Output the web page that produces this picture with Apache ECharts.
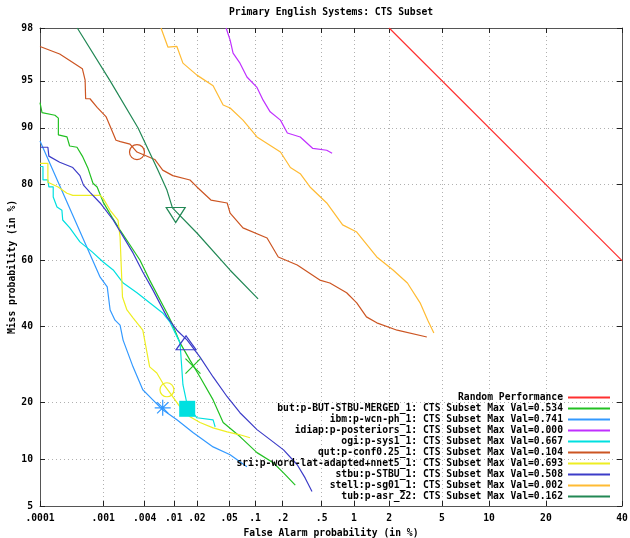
<!DOCTYPE html>
<html>
<head>
<meta charset="utf-8">
<script src="https://cdn.jsdelivr.net/npm/echarts@6/dist/echarts.min.js"></script>
<style>
  html, body { margin: 0; background: #fff; }
  #chart { width: 630px; height: 538px; }
</style>
</head>
<body>
<div id="chart"></div>
<script>
// tick labels (in %)
const faTicks = ['.0001', '.001', '.004', '.01', '.02', '.05', '.1', '.2', '.5', '1', '2', '5', '10', '20', '40'];
const missTicks = ['5', '10', '20', '40', '60', '80', '90', '95', '98'];

// curves: [false alarm %, miss %]
const random = [[2, 98], [40, 60]];
const but = [[0.0001, 93], [0.000108, 91.9], [0.000176, 91.6], [0.0002, 91.25], [0.0002, 89], [0.000275, 88.7], [0.000303, 87.3], [0.000396, 87.1], [0.00048, 85.6], [0.000589, 83.3], [0.0007, 80.3], [0.00081, 79.5], [0.001, 76], [0.00136, 72.2], [0.00178, 68.8], [0.00248, 64.6], [0.00343, 60.2], [0.0047, 54.1], [0.0081, 44], [0.0094, 41], [0.0121, 35.1], [0.0163, 30.3], [0.0219, 25.9], [0.0319, 20.5], [0.0423, 15.9], [0.067, 13.4], [0.105, 10.9], [0.159, 9.5], [0.205, 8.25], [0.272, 6.9]];
const ibm = [[0.0001, 88.1], [0.0009, 55], [0.00115, 52], [0.00127, 44.9], [0.0015, 41.8], [0.00178, 40.3], [0.00197, 35.9], [0.00274, 28.5], [0.00377, 22.8], [0.0052, 20.5], [0.0071, 18.4], [0.011, 16.4], [0.0178, 14.1], [0.0319, 11.75], [0.0513, 10.6], [0.0807, 9]];
const idiap = [[0.0459, 98], [0.0513, 97.5], [0.0556, 96.85], [0.067, 96.26], [0.0807, 95.3], [0.105, 94.45], [0.123, 93.26], [0.147, 92], [0.19, 91], [0.225, 89.27], [0.306, 88.7], [0.41, 86.9], [0.56, 86.6], [0.63, 86.1]];
const ogi = [[0.0001, 83.7], [0.000112, 83.7], [0.000112, 81], [0.000135, 81], [0.00014, 79.5], [0.000165, 79.5], [0.000165, 77.2], [0.00019, 74.8], [0.000228, 74], [0.000235, 71.5], [0.000305, 69.4], [0.00044, 65.5], [0.00068, 62.6], [0.001, 59.6], [0.00141, 57.2], [0.00198, 53.2], [0.00312, 50.2], [0.0047, 47.1], [0.0071, 44], [0.0089, 41.2], [0.0121, 35.1], [0.0132, 24], [0.015, 19.4], [0.02, 16.8], [0.0319, 16.4], [0.0338, 15.1]];
const qut = [[0.0001, 97.2], [0.00021, 96.8], [0.00034, 96.3], [0.00048, 95.9], [0.00053, 95.05], [0.00054, 93.4], [0.00063, 93.4], [0.00081, 92.5], [0.00111, 91.4], [0.00127, 90.2], [0.00155, 88.2], [0.0018, 88], [0.00248, 87.6], [0.00312, 86.3], [0.00553, 85], [0.0071, 83], [0.0097, 81.9], [0.0163, 81], [0.02, 79.5], [0.03, 76.5], [0.0473, 75.8], [0.0513, 73.3], [0.0726, 69.4], [0.136, 66.6], [0.18, 61.1], [0.285, 58.7], [0.48, 54.1], [0.6, 53.2], [0.86, 50.2], [1.06, 47.1], [1.29, 42.8], [1.58, 41], [2.32, 38.8], [3.9, 36.8]];
const sri = [[0.0001, 84.3], [0.000135, 84.3], [0.000135, 80.5], [0.000198, 79.5], [0.000275, 78.1], [0.00034, 77.6], [0.0009, 77.6], [0.001, 76.9], [0.00127, 74], [0.00166, 71.5], [0.00178, 66.9], [0.00193, 48.9], [0.00224, 44.9], [0.00274, 42.5], [0.00377, 38.8], [0.0047, 28.5], [0.0059, 26.9], [0.0071, 24.4], [0.0089, 22.1], [0.0121, 19], [0.0163, 17], [0.0219, 15.9], [0.0319, 14.9], [0.0473, 14.2], [0.067, 13.7], [0.0875, 13.2]];
const stbu = [[0.0001, 87.1], [0.000135, 87.1], [0.00014, 85.6], [0.00021, 84.5], [0.00034, 83.5], [0.00044, 81.9], [0.0005, 79.9], [0.00063, 78.3], [0.0009, 75.8], [0.00141, 71.5], [0.00199, 66.9], [0.00274, 62.3], [0.00377, 56.6], [0.0052, 51.1], [0.0081, 42.8], [0.011, 38.8], [0.015, 35.9], [0.0219, 31.1], [0.0319, 25.9], [0.0473, 21.2], [0.067, 17.8], [0.105, 14.6], [0.147, 12.9], [0.205, 11.3], [0.285, 9.25], [0.343, 7.67], [0.402, 6.27]];
const stell = [[0.00673, 98], [0.00834, 97.17], [0.011, 97.2], [0.0132, 96.26], [0.02, 95.44], [0.0319, 94.6], [0.0423, 92.76], [0.0513, 92.43], [0.0726, 91], [0.105, 88.7], [0.19, 86.3], [0.242, 83.5], [0.306, 82.3], [0.384, 79.5], [0.56, 75.8], [0.79, 70.2], [1.06, 68.25], [1.58, 61.1], [2.15, 57.2], [2.79, 53.2], [3.48, 47.1], [3.96, 41.8], [4.38, 38]];
const tub = [[0.0004, 98], [0.00127, 95], [0.00322, 90], [0.0061, 83], [0.0081, 78.8], [0.0096, 74.6], [0.02, 68], [0.051, 57.2], [0.108, 48.3]];

// min DCF points: [false alarm %, miss %]
const butMin = [0.0178, 28.7];
const ibmMin = [0.0071, 18.8];
const ogiMin = [0.015, 18.6];
const qutMin = [0.00312, 86.3];
const sriMin = [0.0081, 22.8];
const stbuMin = [0.0145, 35.1];
const tubMin = [0.0106, 72.8];

// inverse normal CDF (Acklam), used for the DET axes
function probit(p) {
  const a = [-39.69683028665376, 220.9460984245205, -275.9285104469687, 138.3577518672690, -30.66479806614716, 2.506628277459239];
  const b = [-54.47609879822406, 161.5858368580409, -155.6989798598866, 66.80131188771972, -13.28068155288572];
  const c = [-0.007784894002430293, -0.3223964580411365, -2.400758277161838, -2.549732539343734, 4.374664141464968, 2.938163982698783];
  const d = [0.007784695709041462, 0.3224671290700398, 2.445134137142996, 3.754408661907416];
  const plow = 0.02425;
  let q, r;
  if (p < plow) {
    q = Math.sqrt(-2 * Math.log(p));
    return (((((c[0] * q + c[1]) * q + c[2]) * q + c[3]) * q + c[4]) * q + c[5]) / ((((d[0] * q + d[1]) * q + d[2]) * q + d[3]) * q + 1);
  }
  if (p <= 1 - plow) {
    q = p - 0.5; r = q * q;
    return (((((a[0] * r + a[1]) * r + a[2]) * r + a[3]) * r + a[4]) * r + a[5]) * q / (((((b[0] * r + b[1]) * r + b[2]) * r + b[3]) * r + b[4]) * r + 1);
  }
  q = Math.sqrt(-2 * Math.log(1 - p));
  return -(((((c[0] * q + c[1]) * q + c[2]) * q + c[3]) * q + c[4]) * q + c[5]) / ((((d[0] * q + d[1]) * q + d[2]) * q + d[3]) * q + 1);
}
const pz = v => probit(v / 100);
const toDet = pts => pts.map(p => [pz(p[0]), pz(p[1])]);

const faVals = faTicks.map(t => pz(+t));
const missVals = missTicks.map(t => pz(+t));
function nearestLabel(vals, labels, v) {
  let best = 0;
  vals.forEach((x, i) => { if (Math.abs(x - v) < Math.abs(vals[best] - v)) best = i; });
  return labels[best];
}

const font = { fontFamily: 'DejaVu Sans Mono', fontWeight: 'bold', fontSize: 9.7, color: '#000' };
const frame = { lineStyle: { color: '#555', width: 1 } };
const dots = { show: true, lineStyle: { color: '#b0b0b0', type: [1, 3], width: 1 } };

function curve(name, data, color, mark) {
  const s = {
    name: name, type: 'line', data: toDet(data),
    symbol: 'none', showSymbol: false, smooth: false,
    lineStyle: { color: color, width: 1.2 }, itemStyle: { color: color },
    emphasis: { disabled: true }, z: 3
  };
  if (mark) {
    s.markPoint = {
      silent: true, animation: false,
      symbol: mark.symbol, symbolSize: mark.size, symbolRotate: mark.rotate || 0,
      label: { show: false },
      itemStyle: mark.filled ? { color: color } : { color: 'rgba(0,0,0,0)', borderColor: color, borderWidth: 1.2 },
      data: [{ coord: [pz(mark.at[0]), pz(mark.at[1])] }]
    };
  }
  return s;
}

const chart = echarts.init(document.getElementById('chart'));
chart.setOption({
  animation: false,
  backgroundColor: '#fff',
  title: {
    text: 'Primary English Systems: CTS Subset',
    left: 229, top: 7, padding: 0,
    textStyle: Object.assign({}, font)
  },
  grid: { left: 40, right: 8, top: 28, bottom: 32, containLabel: false, outerBoundsMode: 'none' },
  legend: {
    orient: 'vertical', align: 'right', right: 19, top: 392, padding: 0,
    itemWidth: 42, itemHeight: 8, itemGap: 0, selectedMode: false,
    itemStyle: { opacity: 0 },
    textStyle: Object.assign({ lineHeight: 11 }, font),
    data: ['Random Performance',
      'but:p-BUT-STBU-MERGED_1: CTS Subset Max Val=0.534',
      'ibm:p-wcn-ph_1: CTS Subset Max Val=0.741',
      'idiap:p-posteriors_1: CTS Subset Max Val=0.000',
      'ogi:p-sys1_1: CTS Subset Max Val=0.667',
      'qut:p-conf0.25_1: CTS Subset Max Val=0.104',
      'sri:p-word-lat-adapted+nnet5_1: CTS Subset Max Val=0.693',
      'stbu:p-STBU_1: CTS Subset Max Val=0.508',
      'stell:p-sg01_1: CTS Subset Max Val=0.002',
      'tub:p-asr_22: CTS Subset Max Val=0.162']
  },
  xAxis: [{
    type: 'value', min: pz(0.0001), max: pz(40),
    name: 'False Alarm probability (in %)', nameLocation: 'middle', nameGap: 22, nameMoveOverlap: false,
    nameTextStyle: Object.assign({}, font),
    axisLine: Object.assign({ onZero: false }, frame),
    axisTick: { inside: true, length: 5, customValues: faVals, lineStyle: { color: '#222' } },
    axisLabel: Object.assign({ customValues: faVals, margin: 7, formatter: v => nearestLabel(faVals, faTicks, v) }, font),
    splitLine: dots
  }, {
    type: 'value', position: 'top', min: pz(0.0001), max: pz(40),
    axisLine: Object.assign({ onZero: false }, frame),
    axisTick: { inside: true, length: 5, customValues: faVals, lineStyle: { color: '#222' } },
    axisLabel: { show: false }, splitLine: { show: false }
  }],
  yAxis: [{
    type: 'value', min: pz(5), max: pz(98),
    name: 'Miss probability (in %)', nameLocation: 'middle', nameGap: 23, nameMoveOverlap: false,
    nameTextStyle: Object.assign({}, font),
    axisLine: Object.assign({ onZero: false }, frame),
    axisTick: { inside: true, length: 5, customValues: missVals, lineStyle: { color: '#222' } },
    axisLabel: Object.assign({ customValues: missVals, margin: 7, formatter: v => nearestLabel(missVals, missTicks, v) }, font),
    splitLine: dots
  }, {
    type: 'value', position: 'right', min: pz(5), max: pz(98),
    axisLine: Object.assign({ onZero: false }, frame),
    axisTick: { inside: true, length: 5, customValues: missVals, lineStyle: { color: '#222' } },
    axisLabel: { show: false }, splitLine: { show: false }
  }],
  series: [
    curve('Random Performance', random, '#ff3030'),
    curve('but:p-BUT-STBU-MERGED_1: CTS Subset Max Val=0.534', but, '#22c022',
      { symbol: 'path://M0,0L10,10M10,0L0,10', size: 15, at: butMin }),
    curve('ibm:p-wcn-ph_1: CTS Subset Max Val=0.741', ibm, '#3399ff',
      { symbol: 'path://M5,0L5,10M0,5L10,5M1.5,1.5L8.5,8.5M8.5,1.5L1.5,8.5', size: 16, at: ibmMin }),
    curve('idiap:p-posteriors_1: CTS Subset Max Val=0.000', idiap, '#c030ff'),
    curve('ogi:p-sys1_1: CTS Subset Max Val=0.667', ogi, '#00e0e0',
      { symbol: 'rect', size: 16, filled: true, at: ogiMin }),
    curve('qut:p-conf0.25_1: CTS Subset Max Val=0.104', qut, '#cc5522',
      { symbol: 'circle', size: 15, at: qutMin }),
    curve('sri:p-word-lat-adapted+nnet5_1: CTS Subset Max Val=0.693', sri, '#eeee22',
      { symbol: 'circle', size: 14, at: sriMin }),
    curve('stbu:p-STBU_1: CTS Subset Max Val=0.508', stbu, '#3c3cc8',
      { symbol: 'triangle', size: [20, 14], at: stbuMin }),
    curve('stell:p-sg01_1: CTS Subset Max Val=0.002', stell, '#ffbb33'),
    curve('tub:p-asr_22: CTS Subset Max Val=0.162', tub, '#228855',
      { symbol: 'triangle', size: [19, 15], rotate: 180, at: tubMin })
  ]
});
</script>
</body>
</html>
